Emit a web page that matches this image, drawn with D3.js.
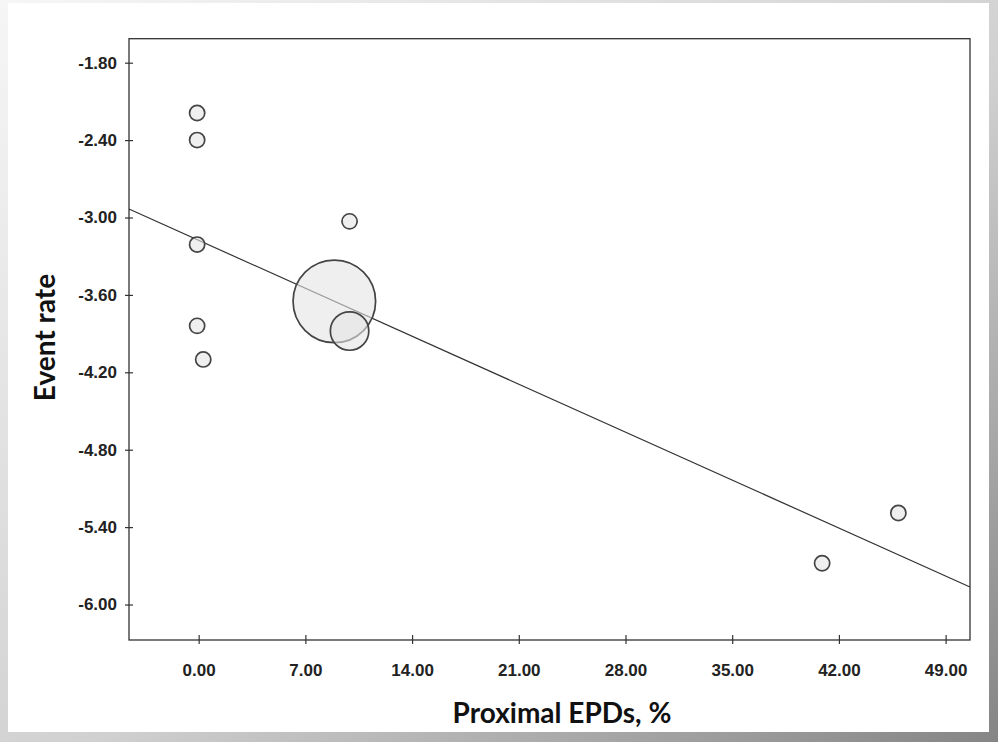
<!DOCTYPE html>
<meta charset="utf-8">
<style>
body { margin: 0; }
.frame { fill: none; stroke: #333; stroke-width: 1.3px; }
.tick text { font-family: "Liberation Sans", Arial, sans-serif; font-weight: bold; font-size: 17px; fill: #222; }
.tick line { stroke: #333; stroke-width: 1.2px; }
.domain { display: none; }
.regline { stroke: #333; stroke-width: 1.2px; fill: none; }
.bubble { fill: rgb(228,228,228); fill-opacity: 0.6; stroke: #444; stroke-width: 1.7px; }
.title { font-family: Lato, "Open Sans", sans-serif; font-weight: bold; font-size: 28px; fill: #111; }
</style>
<div id="chart"></div>
<script src="https://cdnjs.cloudflare.com/ajax/libs/d3/7.8.5/d3.min.js"></script>
<script>
// studies: proximal EPD use (%) vs logit event rate, bubble = study weight
var epdPct    = [-0.1, -0.1, 9.9, -0.1, 8.9, 9.9, -0.1, 0.3, 45.9, 40.9];
var eventRate = [-2.19, -2.40, -3.03, -3.21, -3.65, -3.88, -3.84, -4.10, -5.29, -5.68];
var weight    = [1.0, 1.0, 1.0, 1.0, 29.5, 6.4, 1.0, 1.0, 1.0, 1.0];

var xTicks = [0, 7, 14, 21, 28, 35, 42, 49];
var yTicks = [-1.8, -2.4, -3.0, -3.6, -4.2, -4.8, -5.4, -6.0];

// fitted meta-regression line
var intercept = -3.177, slope = -0.0531;

var W = 998, H = 742;
var margin = {top: 38.7, right: 28, bottom: 102, left: 129};
var width = W - margin.left - margin.right,
    height = H - margin.top - margin.bottom;

var svg = d3.select("#chart").append("svg")
    .attr("width", W)
    .attr("height", H);

// backdrop + card
var defs = svg.append("defs");
var grad = defs.append("linearGradient").attr("id", "bg")
    .attr("x1", 0).attr("y1", 0).attr("x2", 1).attr("y2", 1);
grad.append("stop").attr("offset", "0%").attr("stop-color", "#f6f6f6");
grad.append("stop").attr("offset", "55%").attr("stop-color", "#d0d0d0");
grad.append("stop").attr("offset", "100%").attr("stop-color", "#858585");
svg.append("rect").attr("width", W).attr("height", H).attr("fill", "url(#bg)");
svg.append("rect").attr("x", 8).attr("y", 3).attr("width", 981).attr("height", 729).attr("fill", "#fff");

var g = svg.append("g")
    .attr("transform", "translate(" + margin.left + "," + margin.top + ")");

var x = d3.scaleLinear().domain([-4.57, 50.6]).range([0, width]);
var y = d3.scaleLinear().domain([-1.614, -6.275]).range([0, height]);
var r = d3.scaleSqrt().domain([0, 1]).range([0, 7.6]);

// plain hyphen minus, like the original
var fmt = function(d) { return d3.format(".2f")(d).replace("\u2212", "-"); };

g.append("rect").attr("class", "frame")
    .attr("width", width).attr("height", height);

// x axis
var xAxis = g.append("g")
    .attr("transform", "translate(0," + height + ")")
    .call(d3.axisBottom(x).tickValues(xTicks).tickFormat(fmt).tickSize(0).tickPadding(24));
xAxis.selectAll(".tick").append("line").attr("y1", -5).attr("y2", 4);

// y axis
var yAxis = g.append("g")
    .call(d3.axisLeft(y).tickValues(yTicks).tickFormat(fmt).tickSize(0).tickPadding(12));
yAxis.selectAll(".tick").append("line").attr("x1", -4).attr("x2", 4);

// regression line
var xd = x.domain();
g.append("line").attr("class", "regline")
    .attr("x1", x(xd[0])).attr("y1", y(intercept + slope * xd[0]))
    .attr("x2", x(xd[1])).attr("y2", y(intercept + slope * xd[1]));

// bubbles, largest first
var pts = epdPct.map(function(d, i) { return {x: d, y: eventRate[i], w: weight[i]}; });
pts.sort(function(a, b) { return b.w - a.w; });
g.selectAll(".bubble")
    .data(pts)
    .enter().append("circle")
    .attr("class", "bubble")
    .attr("cx", function(d) { return x(d.x); })
    .attr("cy", function(d) { return y(d.y); })
    .attr("r", function(d) { return r(d.w); });

// axis titles
svg.append("text").attr("class", "title")
    .attr("text-anchor", "middle")
    .attr("x", 562).attr("y", 723)
    .text("Proximal EPDs, %");
svg.append("text").attr("class", "title")
    .attr("text-anchor", "middle")
    .attr("transform", "translate(55,337.5)rotate(-90)")
    .text("Event rate");
</script>
